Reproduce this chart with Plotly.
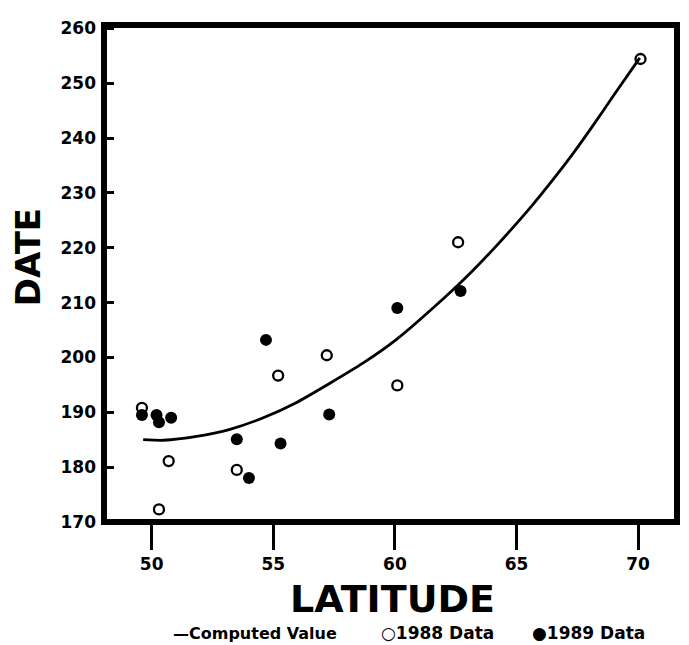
import plotly.graph_objects as go

# Computed curve
curve_lat = [49.65, 50.48, 51.85, 53.22, 54.59, 55.96, 57.33, 58.70, 60.07, 61.99,
             62.95, 64.04, 64.86, 65.68, 66.50, 67.33, 68.15, 68.97, 70.07]
curve_date = [185.0, 184.9, 185.6, 186.9, 189.0, 191.8, 195.3, 199.0, 203.3, 210.7,
              214.7, 219.7, 223.7, 227.9, 232.4, 237.2, 242.3, 247.6, 254.6]

# 1988 data (open circles)
lat_1988 = [49.6, 50.3, 50.7, 53.5, 55.2, 57.2, 60.1, 62.6, 70.1]
date_1988 = [190.8, 172.3, 181.1, 179.5, 196.7, 200.4, 194.9, 221.0, 254.4]

# 1989 data (filled circles)
lat_1989 = [49.6, 50.2, 50.3, 50.8, 53.5, 54.0, 54.7, 55.3, 57.3, 60.1, 62.7]
date_1989 = [189.5, 189.5, 188.2, 189.0, 185.1, 178.0, 203.2, 184.3, 189.6, 209.0, 212.1]

x_ticks = [50, 55, 60, 65, 70]
y_ticks = [170, 180, 190, 200, 210, 220, 230, 240, 250, 260]

FONT = "DejaVu Sans"

# page has an 8px body margin: figure size reduced accordingly
W, H = 681, 637
L, R, T, B = 96, 12, 10, 123
PW = W - L - R
PH = H - T - B

fig = go.Figure()
fig.add_trace(go.Scatter(x=curve_lat, y=curve_date, mode="lines",
                         line=dict(color="black", width=2.8, shape="spline", smoothing=0.6),
                         showlegend=False, hoverinfo="skip"))
fig.add_trace(go.Scatter(x=lat_1988, y=date_1988, mode="markers",
                         marker=dict(symbol="circle-open", size=10, color="black",
                                     line=dict(width=2.3, color="black")),
                         showlegend=False))
fig.add_trace(go.Scatter(x=lat_1989, y=date_1989, mode="markers",
                         marker=dict(symbol="circle", size=12, color="black"),
                         showlegend=False))

def px_x(page_x):
    return (page_x - 8 - L) / PW

fig.update_layout(
    width=W, height=H,
    margin=dict(l=L, r=R, t=T, b=B),
    paper_bgcolor="white", plot_bgcolor="white",
    font=dict(family=FONT, color="black"),
    xaxis=dict(range=[48.04, 71.6], tickvals=x_ticks, ticks="outside", ticklen=27,
               tickwidth=3, tickcolor="black", showgrid=False, zeroline=False,
               showline=False, tickfont=dict(family=FONT, size=17, weight="bold")),
    yaxis=dict(range=[170, 260.6], tickvals=y_ticks, ticks="inside", ticklen=10,
               tickwidth=3, tickcolor="black", showgrid=False, zeroline=False,
               showline=False, tickfont=dict(family=FONT, size=17, weight="bold"),
               ticklabelstandoff=7),
    shapes=[dict(type="rect", xref="paper", yref="paper", x0=0, x1=1, y0=0, y1=1,
                 line=dict(color="black", width=6), layer="above")],
    annotations=[
        dict(text="LATITUDE", xref="paper", yref="paper", x=px_x(392), y=0,
             yshift=-77, xanchor="center", yanchor="middle", showarrow=False,
             font=dict(family=FONT, size=38, weight="bold")),
        dict(text="DATE", xref="paper", yref="paper", x=0, xshift=-76,
             y=(521.5 - 253) / PH, xanchor="center", yanchor="middle", textangle=-90,
             showarrow=False, font=dict(family=FONT, size=34, weight="bold")),
        dict(text="—Computed Value", xref="paper", yref="paper", x=px_x(171),
             xanchor="left", y=0, yshift=-111, yanchor="middle", showarrow=False,
             font=dict(family=FONT, size=16, weight="bold")),
        dict(text="○1988 Data", xref="paper", yref="paper", x=px_x(379),
             xanchor="left", y=0, yshift=-111, yanchor="middle", showarrow=False,
             font=dict(family=FONT, size=17, weight="bold")),
        dict(text="●1989 Data", xref="paper", yref="paper", x=px_x(530),
             xanchor="left", y=0, yshift=-111, yanchor="middle", showarrow=False,
             font=dict(family=FONT, size=17, weight="bold")),
    ],
)

fig.write_html("out.html")
